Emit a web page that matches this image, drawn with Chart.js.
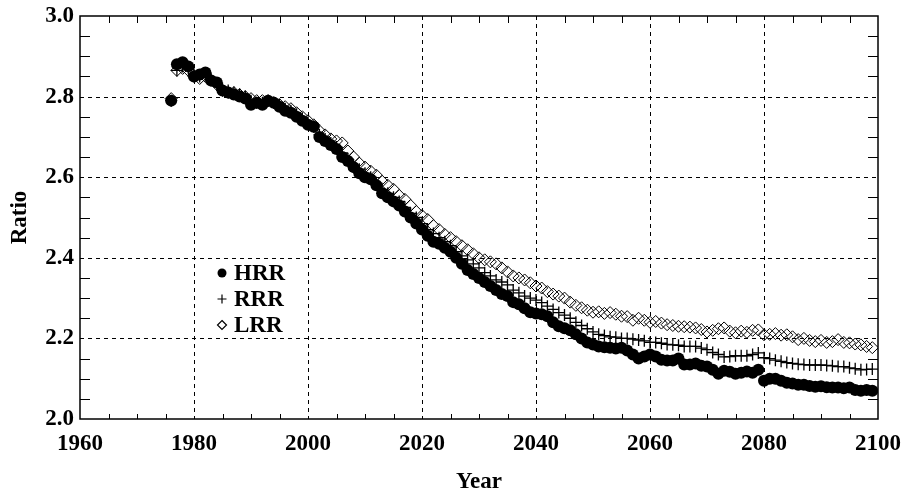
<!DOCTYPE html>
<html>
<head>
<meta charset="utf-8">
<script src="https://cdn.jsdelivr.net/npm/chart.js@4"></script>
<style>
  html, body { margin: 0; padding: 0; background: #fff; }
  #wrap { width: 906px; height: 496px; }
</style>
</head>
<body>
<div id="wrap"><canvas id="chart"></canvas></div>
<script>
const years = Array.from({ length: 124 }, (_, i) => 1976 + i);

const hrr = [
  2.79, 2.88, 2.885, 2.875, 2.85, 2.855, 2.86, 2.84, 2.835, 2.815,
  2.81, 2.805, 2.80, 2.795, 2.78, 2.785, 2.78, 2.79, 2.785, 2.775,
  2.765, 2.76, 2.75, 2.74, 2.73, 2.725, 2.70, 2.69, 2.68, 2.67,
  2.65, 2.64, 2.625, 2.61, 2.60, 2.595, 2.58, 2.56, 2.55, 2.54,
  2.53, 2.515, 2.50, 2.485, 2.47, 2.455, 2.44, 2.435, 2.425, 2.415,
  2.40, 2.385, 2.37, 2.36, 2.35, 2.34, 2.33, 2.32, 2.31, 2.305,
  2.29, 2.285, 2.275, 2.265, 2.262, 2.26, 2.255, 2.24, 2.23, 2.225,
  2.22, 2.21, 2.20, 2.19, 2.185, 2.18, 2.178, 2.177, 2.175, 2.177,
  2.17, 2.16, 2.15, 2.155, 2.16, 2.155, 2.147, 2.145, 2.145, 2.15,
  2.135, 2.135, 2.138, 2.132, 2.13, 2.122, 2.112, 2.12, 2.117, 2.112,
  2.115, 2.118, 2.115, 2.122, 2.095, 2.10, 2.10, 2.095, 2.09, 2.088,
  2.085, 2.085, 2.082, 2.08, 2.081, 2.079, 2.078, 2.078, 2.076, 2.078,
  2.072, 2.07, 2.072, 2.07
];

const rrr = [
  2.79, 2.865, 2.875, 2.87, 2.855, 2.85, 2.855, 2.845, 2.83, 2.82,
  2.815, 2.81, 2.805, 2.80, 2.79, 2.785, 2.785, 2.79, 2.785, 2.78,
  2.77, 2.765, 2.755, 2.745, 2.735, 2.725, 2.705, 2.695, 2.685, 2.675,
  2.66, 2.645, 2.63, 2.62, 2.61, 2.60, 2.585, 2.57, 2.56, 2.55,
  2.54, 2.525, 2.51, 2.50, 2.485, 2.47, 2.46, 2.45, 2.44, 2.43,
  2.415, 2.405, 2.395, 2.385, 2.375, 2.363, 2.355, 2.345, 2.34, 2.333,
  2.32, 2.313, 2.305, 2.30, 2.295, 2.289, 2.28, 2.272, 2.264, 2.258,
  2.25, 2.24, 2.232, 2.224, 2.216, 2.21, 2.207, 2.204, 2.203, 2.20,
  2.20, 2.198, 2.196, 2.194, 2.19, 2.19, 2.188, 2.185, 2.184, 2.183,
  2.18, 2.18, 2.18, 2.176, 2.172, 2.165, 2.16, 2.154, 2.155, 2.157,
  2.157, 2.157, 2.16, 2.164, 2.152, 2.15, 2.146, 2.143, 2.14, 2.138,
  2.136, 2.135, 2.134, 2.134, 2.134, 2.133, 2.132, 2.13, 2.13, 2.127,
  2.125, 2.122, 2.123, 2.124
];

const lrr = [
  2.795, 2.865, 2.87, 2.865, 2.85, 2.845, 2.85, 2.84, 2.83, 2.815,
  2.81, 2.81, 2.805, 2.80, 2.795, 2.79, 2.79, 2.79, 2.785, 2.78,
  2.775, 2.77, 2.76, 2.75, 2.74, 2.73, 2.715, 2.705, 2.695, 2.69,
  2.685, 2.665, 2.65, 2.635, 2.625, 2.615, 2.605, 2.59, 2.58, 2.57,
  2.555, 2.545, 2.53, 2.515, 2.505, 2.495, 2.48, 2.47, 2.458, 2.45,
  2.44, 2.43, 2.42, 2.41, 2.40, 2.395, 2.39, 2.385, 2.375, 2.365,
  2.355, 2.35, 2.345, 2.338, 2.33, 2.325, 2.316, 2.31, 2.305, 2.30,
  2.29, 2.282, 2.276, 2.27, 2.265, 2.266, 2.262, 2.264, 2.26, 2.255,
  2.254, 2.245, 2.25, 2.245, 2.24, 2.242, 2.238, 2.234, 2.232, 2.23,
  2.229, 2.228, 2.226, 2.222, 2.216, 2.22, 2.224, 2.226, 2.218, 2.214,
  2.218, 2.215, 2.22, 2.221, 2.209, 2.21, 2.212, 2.208, 2.209, 2.204,
  2.197, 2.2, 2.195, 2.192, 2.195, 2.19, 2.192, 2.197, 2.19, 2.189,
  2.186, 2.184, 2.18, 2.177
];

const seriesNames = ["HRR", "RRR", "LRR"];
const xTicks = [1960, 1980, 2000, 2020, 2040, 2060, 2080, 2100];
const yTicks = [2.0, 2.2, 2.4, 2.6, 2.8, 3.0];

const FONT = "'Liberation Serif', 'Times New Roman', serif";
const pts = vals => years.map((y, i) => ({ x: y, y: vals[i] }));

function marker(ctx, style, x, y, r) {
  ctx.save();
  ctx.strokeStyle = "#000";
  ctx.fillStyle = "#000";
  ctx.lineWidth = 1.2;
  ctx.beginPath();
  if (style === "circle") {
    ctx.arc(x, y, r, 0, Math.PI * 2);
    ctx.fill();
  } else if (style === "cross") {
    ctx.moveTo(x - r, y); ctx.lineTo(x + r, y);
    ctx.moveTo(x, y - r); ctx.lineTo(x, y + r);
    ctx.stroke();
  } else {
    ctx.moveTo(x, y - r); ctx.lineTo(x + r, y);
    ctx.lineTo(x, y + r); ctx.lineTo(x - r, y);
    ctx.closePath();
    ctx.stroke();
  }
  ctx.restore();
}

// grid, frame and inner ticks
const frame = {
  id: "frame",
  beforeDatasetsDraw(chart) {
    const { ctx, chartArea: a, scales: { x, y } } = chart;
    ctx.save();
    ctx.strokeStyle = "#000";
    ctx.lineWidth = 1;
    ctx.setLineDash([4, 4]);
    xTicks.slice(1, -1).forEach(v => {
      const px = Math.round(x.getPixelForValue(v)) + 0.5;
      ctx.beginPath(); ctx.moveTo(px, a.top); ctx.lineTo(px, a.bottom); ctx.stroke();
    });
    yTicks.slice(1, -1).forEach(v => {
      const py = Math.round(y.getPixelForValue(v)) + 0.5;
      ctx.beginPath(); ctx.moveTo(a.left, py); ctx.lineTo(a.right, py); ctx.stroke();
    });
    ctx.setLineDash([]);
    for (let v = 1965; v < 2100; v += 5) {
      if (v % 20 === 0) continue;
      const px = Math.round(x.getPixelForValue(v)) + 0.5;
      ctx.beginPath();
      ctx.moveTo(px, a.bottom); ctx.lineTo(px, a.bottom - 5);
      ctx.moveTo(px, a.top); ctx.lineTo(px, a.top + 7);
      ctx.stroke();
    }
    for (let i = 1; i < 20; i++) {
      if (i % 4 === 0) continue;
      const py = Math.round(y.getPixelForValue(2 + i * 0.05)) + 0.5;
      ctx.beginPath();
      ctx.moveTo(a.left, py); ctx.lineTo(a.left + 10, py);
      ctx.moveTo(a.right, py); ctx.lineTo(a.right - 10, py);
      ctx.stroke();
    }
    ctx.lineWidth = 1.5;
    ctx.strokeRect(a.left, a.top, a.right - a.left, a.bottom - a.top);
    ctx.restore();
  },
  afterDraw(chart) {
    const { ctx } = chart;
    const styles = ["circle", "cross", "diamond"];
    const rows = [273, 299, 325];
    ctx.save();
    ctx.font = "bold 23px " + FONT;
    ctx.fillStyle = "#000";
    ctx.textBaseline = "middle";
    seriesNames.forEach((name, i) => {
      marker(ctx, styles[i], 222, rows[i], 4.5);
      ctx.fillText(name, 234, rows[i] + 1);
    });
    ctx.restore();
  }
};

const tickFont = { family: FONT, size: 23, weight: "bold" };

new Chart(document.getElementById("chart"), {
  type: "scatter",
  data: {
    datasets: [
      { label: seriesNames[0], data: pts(hrr), pointStyle: "circle", pointRadius: 6,
        backgroundColor: "#000", borderColor: "#000", borderWidth: 0 },
      { label: seriesNames[1], data: pts(rrr), pointStyle: "cross", pointRadius: 6,
        borderColor: "#000", borderWidth: 1.3 },
      { label: seriesNames[2], data: pts(lrr), pointStyle: "rectRot", pointRadius: 6,
        backgroundColor: "rgba(0,0,0,0)", borderColor: "#000", borderWidth: 1 }
    ]
  },
  options: {
    responsive: true,
    maintainAspectRatio: false,
    animation: false,
    events: [],
    layout: { padding: { top: 16, right: 28, left: 0, bottom: 0 } },
    plugins: { legend: { display: false }, tooltip: { enabled: false } },
    scales: {
      x: {
        type: "linear", min: 1960, max: 2100,
        afterBuildTicks: s => { s.ticks = xTicks.map(v => ({ value: v })); },
        afterFit: s => { s.height = 77; s.paddingLeft = 0; s.paddingRight = 0; },
        grid: { display: false, drawTicks: false },
        border: { display: false },
        ticks: { color: "#000", padding: 11, maxRotation: 0, callback: v => String(v), font: tickFont },
        title: { display: true, text: "Year", color: "#000", padding: 0, font: tickFont }
      },
      y: {
        min: 2.0, max: 3.0,
        afterBuildTicks: s => { s.ticks = yTicks.map(v => ({ value: v })); },
        afterFit: s => { s.width = 80; s.paddingTop = 0; s.paddingBottom = 0; },
        grid: { display: false, drawTicks: false },
        border: { display: false },
        ticks: { color: "#000", padding: 6, callback: v => v.toFixed(1), font: tickFont },
        title: { display: true, text: "Ratio", color: "#000", padding: 6, font: tickFont }
      }
    }
  },
  plugins: [frame]
});
</script>
</body>
</html>
